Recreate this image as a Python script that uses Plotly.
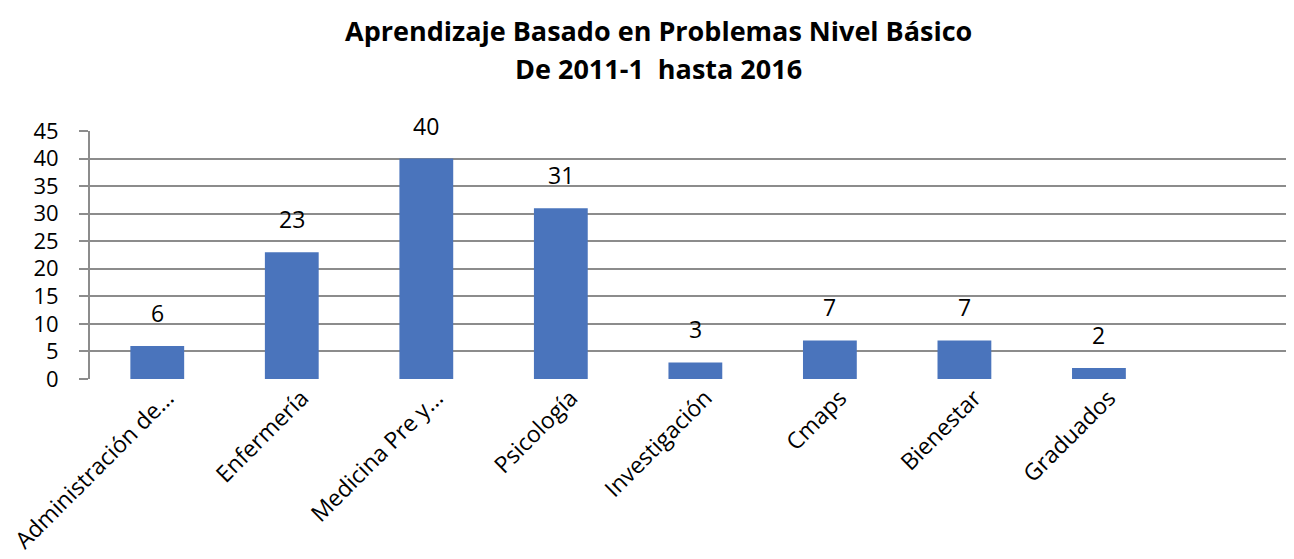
import plotly.graph_objects as go

categories = ["Administración de...", "Enfermería", "Medicina Pre y...", "Psicología",
              "Investigación", "Cmaps", "Bienestar", "Graduados"]
values = [6, 23, 40, 31, 3, 7, 7, 2]
y_ticks = [0, 5, 10, 15, 20, 25, 30, 35, 40, 45]
title_lines = ["Aprendizaje Basado en Problemas Nivel Básico", "De 2011-1  hasta 2016"]

FONT = "Open Sans"
GRID = "#8c8c8c"

fig = go.Figure()
fig.add_trace(go.Bar(
    x=categories, y=values,
    marker=dict(color="#4A74BC", line=dict(width=0)),
    width=0.4,
    hoverinfo="skip",
))

annotations = []
for c, v in zip(categories, values):
    annotations.append(dict(
        x=c, y=v, xref="x", yref="y", text=str(v), showarrow=False,
        yanchor="middle", yshift=33, font=dict(family=FONT, size=23, color="#000000"),
    ))
for line, shift in zip(title_lines, [101, 63]):
    annotations.append(dict(
        x=0.5, y=1.0, xref="paper", yref="paper", xanchor="center", yanchor="middle",
        xshift=-34, yshift=shift, text="<b>" + line + "</b>",
        showarrow=False, font=dict(family=FONT, size=27, color="#000000"),
    ))

fig.update_layout(
    width=1286, height=551,
    margin=dict(l=82, r=0, t=123, b=180),
    paper_bgcolor="white", plot_bgcolor="white",
    showlegend=False,
    annotations=annotations,
    xaxis=dict(
        type="category", range=[-0.5, 8.45], automargin=False,
        tickangle=-45, tickfont=dict(family=FONT, size=23, color="#000000"),
        ticklabelshift=10,
        showgrid=False, showline=False, ticks="", zeroline=False,
    ),
    yaxis=dict(
        range=[0, 45], tickvals=y_ticks, ticktext=[str(t) for t in y_ticks],
        automargin=False,
        tickfont=dict(family=FONT, size=22, color="#000000"),
        showgrid=True, gridcolor=GRID, gridwidth=2,
        showline=True, linecolor=GRID, linewidth=2,
        ticks="outside", ticklen=9, tickcolor=GRID, tickwidth=2,
        ticklabelstandoff=16,
        zeroline=False,
    ),
)

fig.write_html("out.html")
